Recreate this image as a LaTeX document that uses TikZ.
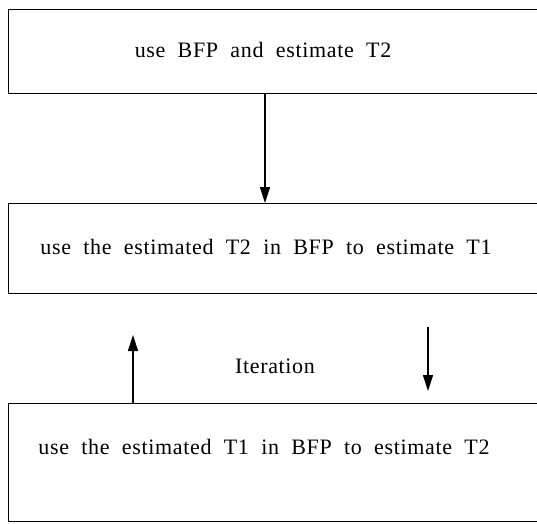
\documentclass[tikz,border=0pt]{standalone}
\usepackage{fontspec}
\setmainfont[LetterSpace=3,WordSpace=2]{Liberation Serif}
\usetikzlibrary{arrows.meta}
\begin{document}
\begin{tikzpicture}[x=1pt,y=-1pt,
  stage/.style={draw, line width=1.2pt, rectangle, minimum width=545pt,
                anchor=north west, inner sep=0pt},
  caption/.style={font=\fontsize{22}{26}\selectfont, inner sep=0pt},
  flow/.style={line width=1.4pt, -{Triangle[length=16pt,width=10pt]}}]
\useasboundingbox (0,0) rectangle (537,523);
\clip (0,0) rectangle (537,523);
% the three stages
\node[stage, minimum height=84pt]  (b1) at (8,9)   {};
\node[stage, minimum height=90pt]  (b2) at (8,203) {};
\node[stage, minimum height=118pt] (b3) at (8,403) {};
\node[caption] (t1) at (263,50)  {use BFP and estimate T2};
\node[caption] (t2) at (266,247) {use the estimated T2 in BFP to estimate T1};
\node[caption] (t3) at (264,447) {use the estimated T1 in BFP to estimate T2};
\node[caption] (it) at (275,366) {Iteration};
% connectors
\draw[flow] ([xshift=257pt]b1.south west) -- ([xshift=257pt]b2.north west);
\coordinate (upTip) at (133,335);
\coordinate (dnTail) at (428,327);
\coordinate (dnTip) at (428,391);
\draw[flow] ([xshift=125pt]b3.north west) -- (upTip);
\draw[flow] (dnTail) -- (dnTip);
\end{tikzpicture}
\end{document}
